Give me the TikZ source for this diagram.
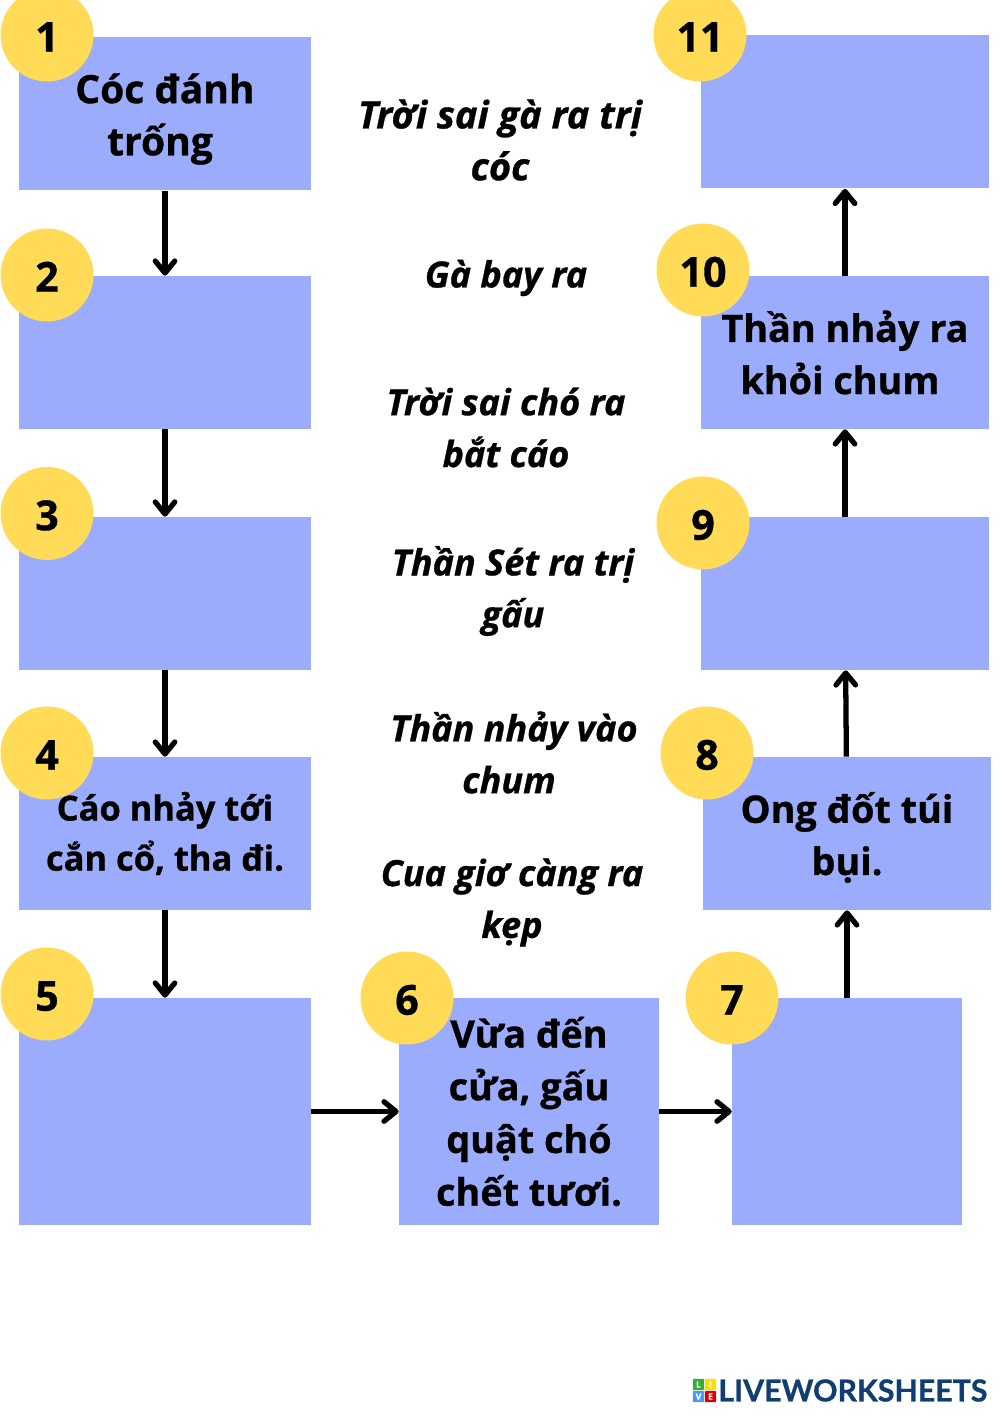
\documentclass[tikz,border=0pt]{standalone}
\usepackage{fontspec}
\setmainfont{Open Sans}[BoldFeatures={FakeBold=0.8},BoldItalicFeatures={FakeBold=0.8}]
\newfontfamily\logofont{Lato}[BoldFeatures={FakeBold=0.8}]
\usetikzlibrary{arrows.meta}
\definecolor{BoxBlue}{HTML}{9BACFC}
\definecolor{NumGold}{HTML}{FFDB58}
\definecolor{LogoNavy}{HTML}{0F3D74}
\begin{document}
\begin{tikzpicture}[
    lbl/.style={align=center,inner sep=0pt,font=\fontsize{21.5}{29.7}\selectfont\bfseries},
    boxn/.style={lbl,rectangle,fill=BoxBlue,minimum height=3.06cm,minimum width=5.84cm},
    numc/.style={circle,fill=NumGold,inner sep=0pt,minimum size=1.86cm,text height=19pt,text depth=0pt,font=\fontsize{23.5}{28}\selectfont\bfseries},
    notetxt/.style={align=center,inner sep=0pt,font=\fontsize{20.5}{29.5}\selectfont\bfseries\itshape},
    flow/.style={line width=3pt,black,-{Straight Barb[length=2.4mm,width=3.9mm,line width=3pt,round]}},
    lsq/.style={rectangle,rounded corners=0.5pt,inner sep=0pt,minimum size=0.225cm,text=white,font=\fontsize{5}{5}\selectfont\bfseries},
  ]
  \useasboundingbox (0,0) rectangle (19.98,28.30);
  % Left column, going down
  \node[boxn] (b1) at (3.30,26.02) {};
  \node[boxn] (b2) at (3.30,21.25) {};
  \node[boxn] (b3) at (3.30,16.43) {};
  \node[boxn,font=\fontsize{19.6}{28.5}\selectfont\bfseries] (b4) at (3.30,11.63) {Cáo nhảy tới\\cắn cổ, tha đi.};
  \node[boxn,minimum height=4.54cm] (b5) at (3.30,6.07) {};
  % Bottom row
  \node[boxn,minimum height=4.54cm,minimum width=5.20cm,font=\fontsize{21.5}{30}\selectfont\bfseries] (b6) at (10.58,6.07) {Vừa đến\\cửa, gấu\\quật chó\\chết tươi.};
  \node[boxn,minimum height=4.54cm,minimum width=4.60cm] (b7) at (16.94,6.07) {};
  % Right column, going up
  \node[boxn,minimum width=5.76cm] (b8) at (16.94,11.63) {};
  \node[boxn,minimum width=5.76cm] (b9) at (16.90,16.43) {};
  \node[boxn,minimum width=5.76cm] (b10) at (16.90,21.25) {Thần nhảy ra\\khỏi chum\hspace*{0.2cm}};
  \node[boxn,minimum width=5.76cm] (b11) at (16.90,26.06) {};
  % Texts sitting a little low in their boxes
  \node[lbl,font=\fontsize{22.2}{29.7}\selectfont\bfseries] (b1txt) at (3.30,25.92) {Cóc đánh\\trống\hspace*{0.2cm}};
  \node[lbl] (b8txt) at (16.94,11.55) {Ong đốt túi\\bụi.};
  % Connectors
  \draw[flow] (b1) -- (b2);
  \draw[flow] (b2) -- (b3);
  \draw[flow] (b3) -- (b4);
  \draw[flow] (b4) -- (b5);
  \draw[flow] (b5) -- (b6);
  \draw[flow] (b6) -- (b7);
  \draw[flow] (b7) -- (b8);
  \draw[flow] (b8) -- (b9);
  \draw[flow] (b9) -- (b10);
  \draw[flow] (b10) -- (b11);
  % Number badges on top of the boxes
  \node[numc] (c1) at (0.94,27.60) {1};
  \node[numc] (c2) at (0.94,22.80) {2};
  \node[numc] (c3) at (0.94,18.03) {3};
  \node[numc] (c4) at (0.94,13.24) {4};
  \node[numc] (c5) at (0.94,8.42) {5};
  \node[numc] (c6) at (8.14,8.34) {6};
  \node[numc] (c7) at (14.64,8.34) {7};
  \node[numc] (c8) at (14.14,13.24) {8};
  \node[numc] (c9) at (14.06,17.84) {9};
  \node[numc] (c10) at (14.06,22.90) {10};
  \node[numc] (c11) at (14.00,27.60) {11};
  % Middle column of events
  \node[notetxt,font=\fontsize{21.6}{29.5}\selectfont\bfseries\itshape] (t1) at (10.00,25.50) {Trời sai gà ra trị\\cóc};
  \node[notetxt] (t2) at (10.12,22.74) {Gà bay ra};
  \node[notetxt] (t3) at (10.12,19.75) {Trời sai chó ra\\bắt cáo};
  \node[notetxt] (t4) at (10.26,16.48) {Thần Sét ra trị\\gấu};
  \node[notetxt] (t5) at (10.28,13.25) {Thần nhảy vào\\chum\hspace*{0.2cm}};
  \node[notetxt] (t6) at (10.24,10.25) {Cua giơ càng ra\\kẹp};
  % Logo, bottom right
  \node[lsq,fill=green!60!black!80] (l1) at (13.97,0.61) {L};
  \node[lsq,fill=yellow!80!orange] (l2) at (14.21,0.61) {I};
  \node[lsq,fill=blue!60!cyan!70] (l3) at (13.97,0.37) {V};
  \node[lsq,fill=red!85!black] (l4) at (14.21,0.37) {E};
  \node[anchor=west,inner sep=0pt,text=LogoNavy,font=\logofont\fontsize{17.25}{17}\selectfont\bfseries] (logo) at (14.36,0.49) {LIVEWORKSHEETS};
\end{tikzpicture}
\end{document}
